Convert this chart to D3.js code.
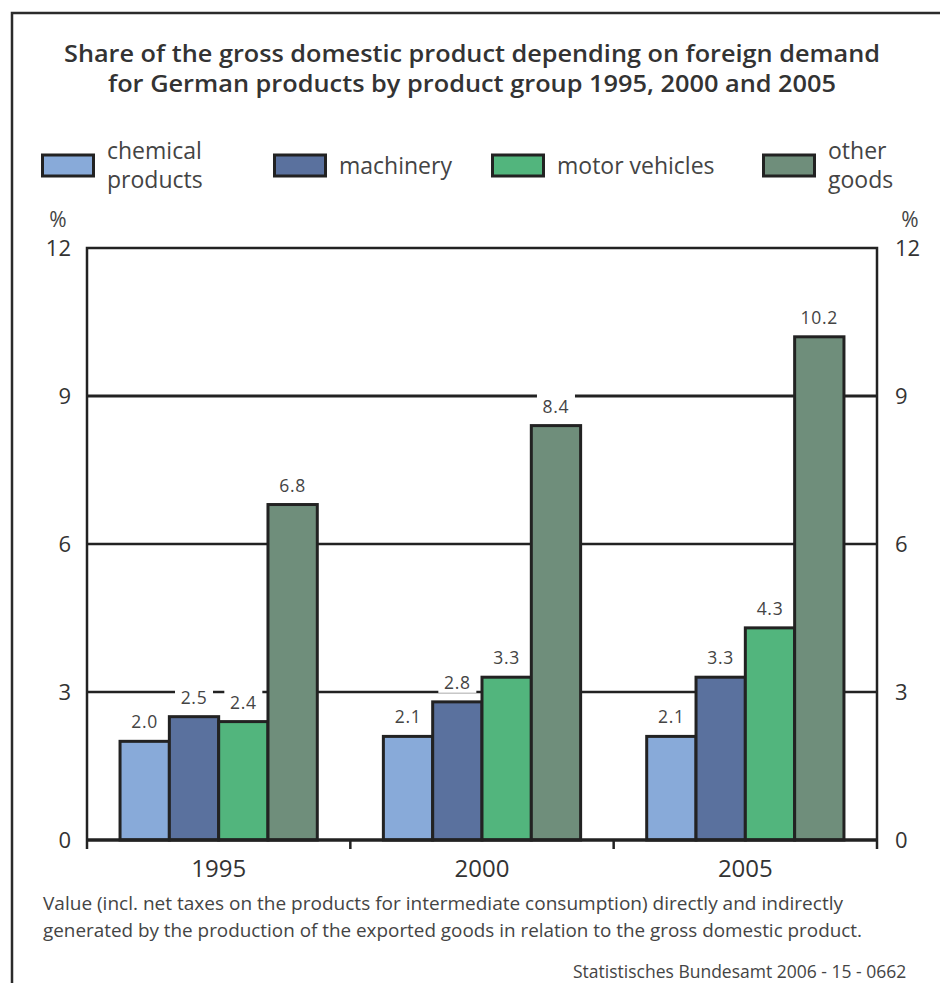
<!DOCTYPE html>
<html>
<head>
<meta charset="utf-8">
<script src="https://cdn.jsdelivr.net/npm/d3@7"></script>
<style>
  html, body { margin: 0; padding: 0; background: #fff; }
  svg { display: block; font-family: "Open Sans", Lato, sans-serif; }
</style>
</head>
<body>
<svg id="chart" width="940" height="983"></svg>
<script>
// values (percent of GDP)
const years = ["1995", "2000", "2005"];
const groups = ["chemical products", "machinery", "motor vehicles", "other goods"];
const chemical = [2.0, 2.1, 2.1];
const machinery = [2.5, 2.8, 3.3];
const motorVehicles = [2.4, 3.3, 4.3];
const otherGoods = [6.8, 8.4, 10.2];
const yTicks = [0, 3, 6, 9, 12];
const gridTicks = [3, 6, 9];

const series = [chemical, machinery, motorVehicles, otherGoods];
const colors = ["#88aad9", "#5a719e", "#52b57d", "#6f8e7b"];
const font = "'Open Sans', Lato, sans-serif";

const svg = d3.select("#chart");

// outer frame (runs off the right and bottom edge of the picture)
svg.append("path")
    .attr("d", "M12,1000 V13 H960")
    .attr("fill", "none")
    .attr("stroke", "#2b2b2b")
    .attr("stroke-width", 2.5);

// title
const title = svg.append("text")
    .attr("text-anchor", "middle")
    .attr("fill", "#333")
    .attr("font-weight", 600)
    .attr("font-size", 24);
title.append("tspan").attr("x", 472).attr("y", 62)
    .attr("textLength", 816).attr("lengthAdjust", "spacingAndGlyphs")
    .text("Share of the gross domestic product depending on foreign demand");
title.append("tspan").attr("x", 472).attr("y", 92)
    .attr("textLength", 728).attr("lengthAdjust", "spacingAndGlyphs")
    .text("for German products by product group 1995, 2000 and 2005");

// legend
const legendX = [41, 273, 491, 762];
const legendLines = [["chemical", "products"], ["machinery"], ["motor vehicles"], ["other", "goods"]];
const legend = svg.append("g").selectAll("g")
    .data(groups)
    .join("g")
    .attr("transform", (d, i) => `translate(${legendX[i]},0)`);
legend.append("rect")
    .attr("x", 1.5).attr("y", 155)
    .attr("width", 51).attr("height", 21)
    .attr("fill", (d, i) => colors[i])
    .attr("stroke", "#222")
    .attr("stroke-width", 3);
legend.each(function (d, i) {
    const lines = legendLines[i];
    const t = d3.select(this).append("text")
        .attr("fill", "#444")
        .attr("font-size", 23);
    lines.forEach((s, k) => {
        t.append("tspan")
            .attr("x", 66)
            .attr("y", lines.length === 1 ? 174 : 159 + k * 29)
            .text(s);
    });
});

// scales
const x0 = d3.scaleBand().domain(years).range([87, 877]);
const x1 = d3.scaleBand().domain(groups).range([0, x0.bandwidth()]).paddingOuter(0.67);
const y = d3.scaleLinear().domain([0, 12]).range([840, 248]);

// grid lines
svg.append("g").selectAll("line")
    .data(gridTicks)
    .join("line")
    .attr("x1", 87).attr("x2", 877)
    .attr("y1", d => y(d)).attr("y2", d => y(d))
    .attr("stroke", "#222")
    .attr("stroke-width", d => d === 9 ? 3 : 2.5);

// plot frame
svg.append("path")
    .attr("d", `M${x0.range()[0]},${y(0)} V${y(12)} H${x0.range()[1]} V${y(0)}`)
    .attr("fill", "none")
    .attr("stroke", "#222")
    .attr("stroke-width", 2.5);

// bars
const rows = years.map((yr, j) => groups.map((g, i) => ({ year: yr, group: g, i, value: series[i][j] })));
const yearG = svg.append("g").selectAll("g")
    .data(rows)
    .join("g")
    .attr("transform", (d, j) => `translate(${x0(years[j])},0)`);
yearG.selectAll("rect")
    .data(d => d)
    .join("rect")
    .attr("x", d => x1(d.group))
    .attr("y", d => y(d.value))
    .attr("width", x1.bandwidth())
    .attr("height", d => y(0) - y(d.value))
    .attr("fill", d => colors[d.i])
    .attr("stroke", "#222")
    .attr("stroke-width", 3);

// value labels with white backing that breaks the grid lines
const lab = yearG.selectAll("g.lab")
    .data(d => d)
    .join("g")
    .attr("class", "lab")
    .attr("transform", d => `translate(${x1(d.group) + x1.bandwidth() / 2},${y(d.value) - 13})`);
lab.append("rect")
    .attr("x", -19).attr("y", -19)
    .attr("width", 38).attr("height", 23)
    .attr("fill", "#fff");
lab.append("text")
    .attr("text-anchor", "middle")
    .attr("fill", "#444")
    .attr("font-size", 17.5)
    .attr("letter-spacing", 0.7)
    .text(d => d3.format(".1f")(d.value));

// x axis
const xAxis = svg.append("g")
    .attr("transform", `translate(0,${y(0)})`)
    .call(d3.axisBottom(x0).tickSize(0).tickPadding(20));
xAxis.select(".domain").remove();
xAxis.selectAll("text")
    .attr("font-family", font)
    .attr("font-size", 24)
    .attr("fill", "#333");
svg.append("line")
    .attr("x1", 87).attr("x2", 877)
    .attr("y1", y(0)).attr("y2", y(0))
    .attr("stroke", "#222").attr("stroke-width", 3.5);
svg.append("g").selectAll("line")
    .data([87, x0("2000"), x0("2005"), 877])
    .join("line")
    .attr("x1", d => d).attr("x2", d => d)
    .attr("y1", y(0)).attr("y2", y(0) + 9)
    .attr("stroke", "#222").attr("stroke-width", 2.5);

// y axes on both sides
function styleAxis(g) {
    g.select(".domain").remove();
    g.selectAll("text")
        .attr("font-family", font)
        .attr("font-size", 22)
        .attr("fill", "#333");
}
svg.append("g")
    .attr("transform", "translate(87,0)")
    .call(d3.axisLeft(y).tickValues(yTicks).tickSize(0).tickPadding(16))
    .call(styleAxis);
svg.append("g")
    .attr("transform", "translate(877,0)")
    .call(d3.axisRight(y).tickValues(yTicks).tickSize(0).tickPadding(18))
    .call(styleAxis);
svg.append("text").attr("x", 58).attr("y", 227).attr("text-anchor", "middle")
    .attr("font-size", 21).attr("fill", "#444").text("%");
svg.append("text").attr("x", 910).attr("y", 227).attr("text-anchor", "middle")
    .attr("font-size", 21).attr("fill", "#444").text("%");

// footnote and source
const note = svg.append("text").attr("fill", "#444").attr("font-size", 18);
note.append("tspan").attr("x", 43).attr("y", 910)
    .attr("textLength", 800).attr("lengthAdjust", "spacingAndGlyphs")
    .text("Value (incl. net taxes on the products for intermediate consumption) directly and indirectly");
note.append("tspan").attr("x", 43).attr("y", 937)
    .attr("textLength", 819).attr("lengthAdjust", "spacingAndGlyphs")
    .text("generated by the production of the exported goods in relation to the gross domestic product.");
svg.append("text").attr("x", 573).attr("y", 978)
    .attr("fill", "#444").attr("font-size", 17.5)
    .text("Statistisches Bundesamt 2006 - 15 - 0662");
</script>
</body>
</html>
